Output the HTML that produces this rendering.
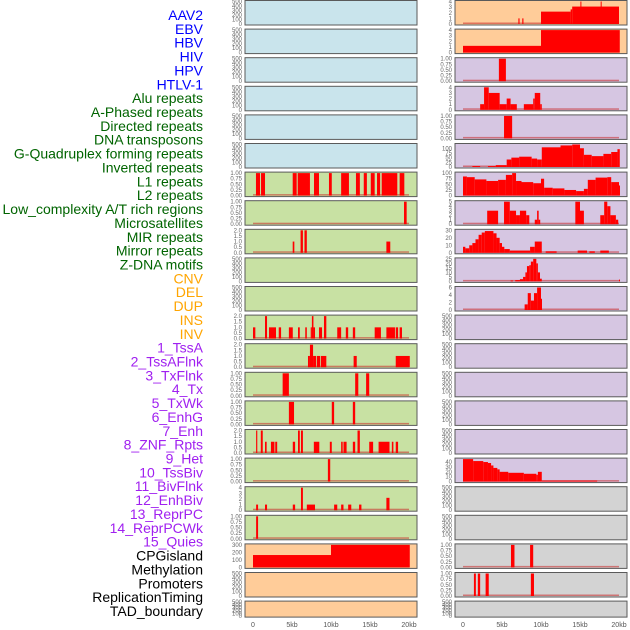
<!DOCTYPE html>
<html><head><meta charset="utf-8">
<style>
html,body{margin:0;padding:0;background:#fff;}
svg{display:block;font-family:"Liberation Sans",sans-serif;}
</style></head>
<body>
<svg id="chart" width="630" height="630" viewBox="0 0 630 630"></svg>
<script>
// ---------- track labels ----------
const trackLabels = ["AAV2","EBV","HBV","HIV","HPV","HTLV-1","Alu repeats","A-Phased repeats","Directed repeats","DNA transposons","G-Quadruplex forming repeats","Inverted repeats","L1 repeats","L2 repeats","Low_complexity A/T rich regions","Microsatellites","MIR repeats","Mirror repeats","Z-DNA motifs","CNV","DEL","DUP","INS","INV","1_TssA","2_TssAFlnk","3_TxFlnk","4_Tx","5_TxWk","6_EnhG","7_Enh","8_ZNF_Rpts","9_Het","10_TssBiv","11_BivFlnk","12_EnhBiv","13_ReprPC","14_ReprPCWk","15_Quies","CPGisland","Methylation","Promoters","ReplicationTiming","TAD_boundary"];
const labelColors = ["#0000ff","#0000ff","#0000ff","#0000ff","#0000ff","#0000ff","#006400","#006400","#006400","#006400","#006400","#006400","#006400","#006400","#006400","#006400","#006400","#006400","#006400","#ffa500","#ffa500","#ffa500","#ffa500","#ffa500","#a020f0","#a020f0","#a020f0","#a020f0","#a020f0","#a020f0","#a020f0","#a020f0","#a020f0","#a020f0","#a020f0","#a020f0","#a020f0","#a020f0","#a020f0","#000","#000","#000","#000","#000"];

// ---------- x axis ----------
const xTickValues = [0,5,10,15,20];
const xTickLabels = ["0","5kb","10kb","15kb","20kb"];

// ---------- y tick sets ----------
const t500 = [0,100,200,300,400,500];
const t1 = [0,0.25,0.5,0.75,1];
const t2 = [0,0.5,1,1.5,2];
const t4 = [0,1,2,3,4];
const t300 = [0,100,200,300];
const t100 = [0,25,50,75,100];
const t5 = [0,1,2,3,4,5];
const t30 = [0,10,20,30];
const t25 = [0,5,10,15,20,25];
const t6 = [0,2,4,6];
const t40 = [0,10,20,30,40];

// ---------- left panel series [startKb, endKb, value] ----------
const leftL1 = [[0.38,0.9,1],[1.03,1.54,1],[5.09,5.6,1],[5.73,7.3,1],[7.82,8.46,1],[9.74,10.1,1],[11.3,12.3,1],[13.2,13.7,1],[14.2,14.6,1],[15.1,15.6,1],[15.9,16.3,1],[16.5,18.5,1],[18.8,19.4,1]];
const leftL2 = [[19.36,19.7,1]];
const leftLowComp = [[5.09,5.3,1],[6.1,6.4,2],[6.6,6.9,2],[17.1,17.6,1]];
const leftINS = [[0,0.3,1],[1.54,1.8,2],[2.05,2.95,1],[3.3,3.6,1],[4.6,5.1,1],[5.77,6.0,1],[6.7,6.9,1],[7.4,7.55,1],[7.55,7.75,2],[7.75,7.95,1],[8.46,8.85,1],[9.1,9.4,2],[10.8,11.3,1],[11.9,12.2,1],[12.8,13.1,1],[15.6,16.4,1],[17.1,18.2,1],[18.3,18.6,1],[18.8,19.1,1]];
const leftTssA = [[7.05,7.3,1],[7.3,7.7,2],[7.7,8.1,1],[8.2,8.6,1],[8.7,9.4,1],[12.9,13.3,1],[18.3,20.1,1]];
const leftTssAFlnk = [[3.8,4.6,1],[13.1,13.5,1],[14.5,14.9,1]];
const leftTxFlnk = [[4.6,5.26,1],[10.1,10.4,1],[12.8,13.1,1]];
const leftTx = [[0.4,0.55,2],[1.0,1.25,2],[1.54,1.75,1],[2.3,2.75,1],[2.85,3.1,1],[5.1,5.4,1],[5.77,6.0,2],[6.15,6.4,2],[7.8,8.5,1],[9.85,10.1,1],[11.3,11.5,1],[11.6,12.0,1],[12.8,13.1,1],[13.4,13.7,2],[14.9,15.4,1],[16.1,17.5,1],[17.8,18.0,1],[18.3,18.6,1]];
const leftTxWk = [[9.6,9.9,1]];
const leftEnhG = [[0.4,0.65,1],[1.54,1.8,1],[5.1,5.4,1],[6.15,6.4,4],[6.9,7.95,1],[10.4,10.8,1],[11.3,11.6,1],[12.2,12.6,1],[13.6,13.9,1],[17.1,17.5,2.2]];
const leftEnh = [[0.4,0.65,1]];
const leftZNF = [[0,10,165],[10,20.1,300]];

// ---------- right panel series ----------
const rightR0 = [[7.1,7.25,1],[7.6,7.75,1],[10,13.8,2.2],[13.8,14.0,2.6],[14.0,20,3.1],[15.05,15.15,4],[17.65,17.75,4]];
const rightR1 = [[0,10,1.2],[10,20.1,4]];
const rightR2 = [[4.6,5.5,1]];
const rightR3 = [[2.2,2.7,1],[2.7,3.3,4],[3.3,4.7,3],[4.7,5.6,1],[5.6,6.1,2],[6.1,6.9,1],[7.8,9.0,1],[9.0,9.2,2],[9.2,9.9,3],[9.9,10.1,1]];
const rightR4 = [[5.26,6.3,1]];
const rightR5 = [[1.2,2.2,5],[3.2,4.2,5],[4.2,5.6,10],[5.6,6.2,40],[6.2,7.2,50],[7.2,8.8,55],[8.8,9.5,45],[9.5,10.1,40],[10.1,12.5,105],[12.5,14.0,115],[14.0,15.0,120],[15.0,15.5,100],[15.5,16.5,65],[16.5,18.0,58],[18.0,19.0,70],[19.0,19.8,80],[19.8,20.1,95]];
const rightR6 = [[0,0.5,85],[0.5,1.5,82],[1.5,3,72],[3,4.5,65],[4.5,5.5,70],[5.5,6.3,92],[6.3,6.8,100],[6.8,7.5,65],[7.5,9,60],[9,10,55],[10,10.4,75],[10.4,11.5,35],[11.5,13,32],[13,14.5,25],[14.5,15.5,20],[15.5,16,30],[16,17,70],[17,18.5,80],[18.5,19,82],[19,20,60],[20,20.1,45]];
const rightR7 = [[3.1,4.5,3],[5.26,6.0,5],[6.0,6.8,3],[6.8,7.3,2],[7.3,8.1,3],[8.1,8.5,2],[9.2,9.5,1],[9.5,9.7,3],[9.7,9.9,1],[14.4,15.0,5],[15.0,15.5,3],[17.6,18.1,2],[18.1,18.5,5],[18.5,18.9,4],[18.9,19.6,2],[19.6,19.9,1]];
const rightR8 = [[0,0.3,8],[0.3,0.8,6],[0.8,1.2,10],[1.2,1.6,13],[1.6,2.0,18],[2.0,2.4,24],[2.4,2.8,27],[2.8,3.9,29],[3.9,4.3,26],[4.3,4.7,20],[4.7,5.0,13],[5.0,5.3,8],[5.3,6.0,5],[6.0,8.6,3],[8.6,9.2,8],[9.2,10.1,15],[10.6,12.0,2],[14.7,15.9,3],[16.2,16.9,2],[17.6,18.7,3]];
const rightR9 = [[6.1,6.4,1],[6.7,7.3,1.5],[7.3,7.7,2.5],[7.7,8.0,5],[8.0,8.2,10],[8.2,8.5,17],[8.5,8.7,18],[8.7,9.0,22],[9.0,9.4,25],[9.4,9.6,20],[9.6,9.87,10],[9.87,10.1,3],[20.0,20.1,2]];
const rightR10 = [[7.9,8.3,1.5],[8.3,8.7,4.5],[8.7,9.1,2.5],[9.1,9.5,4.5],[9.5,10.0,6],[10.0,10.1,3]];
const rightR16 = [[0,1.3,46],[1.3,2.6,42],[2.6,3.2,40],[3.2,3.6,38],[3.6,3.9,33],[3.9,4.4,28],[4.4,4.7,25],[4.7,5.8,20],[5.8,7.8,18],[7.8,9.4,16],[9.4,9.6,14],[9.6,10.1,20],[10.1,17.2,2]];
const rightR19 = [[6.15,6.6,1],[8.6,9.0,1]];
const rightR20 = [[1.4,1.65,1],[1.9,2.2,1],[2.9,3.3,1],[8.7,9.1,1]];

// ---------- row definitions (series, yMax, ticks, decimals, background) ----------
const BLUE="#c9e4ec", GREEN="#c8e1a3", ORANGE="#ffcc99", PURPLE="#d6c6e2", GRAY="#d3d3d3";
const leftRows = [
 [null,500,t500,0,BLUE],[null,500,t500,0,BLUE],[null,500,t500,0,BLUE],[null,500,t500,0,BLUE],[null,500,t500,0,BLUE],[null,500,t500,0,BLUE],
 [leftL1,1,t1,2,GREEN],[leftL2,1,t1,2,GREEN],[leftLowComp,2,t2,1,GREEN],[null,500,t500,0,GREEN],[null,500,t500,0,GREEN],
 [leftINS,2,t2,1,GREEN],[leftTssA,2,t2,1,GREEN],[leftTssAFlnk,1,t1,2,GREEN],[leftTxFlnk,1,t1,2,GREEN],[leftTx,2,t2,1,GREEN],
 [leftTxWk,1,t1,2,GREEN],[leftEnhG,4,t4,0,GREEN],[leftEnh,1,t1,2,GREEN],
 [leftZNF,300,t300,0,ORANGE],[null,500,t500,0,ORANGE],[null,500,t500,0,ORANGE]
];
const rightRows = [
 [rightR0,4,t4,0,ORANGE],[rightR1,4,t4,0,ORANGE],
 [rightR2,1,t1,2,PURPLE],[rightR3,4,t4,0,PURPLE],[rightR4,1,t1,2,PURPLE],[rightR5,120,t100,0,PURPLE],[rightR6,100,t100,0,PURPLE],
 [rightR7,5,t5,0,PURPLE],[rightR8,30,t30,0,PURPLE],[rightR9,25,t25,0,PURPLE],[rightR10,6,t6,0,PURPLE],
 [null,500,t500,0,PURPLE],[null,500,t500,0,PURPLE],[null,500,t500,0,PURPLE],[null,500,t500,0,PURPLE],[null,500,t500,0,PURPLE],
 [rightR16,46,t40,0,PURPLE],[null,500,t500,0,GRAY],[null,500,t500,0,GRAY],[rightR19,1,t1,2,GRAY],[rightR20,1,t1,2,GRAY],[null,500,t500,0,GRAY]
];

const svg = document.getElementById('chart');
const NS = "http://www.w3.org/2000/svg";
function mk(tag, attrs){ const e=document.createElementNS(NS,tag); for(const k in attrs) e.setAttribute(k,attrs[k]); return e; }

// labels
trackLabels.forEach((lab,i)=>{
  const t = mk('text',{x:203,y:15+i*13.86+5,'text-anchor':'end','font-size':14,fill:labelColors[i]});
  t.textContent = lab;
  
  
  svg.appendChild(t);
});

function rowTop(k){ return 0.5 + 28.6*k; }
function rowH(k){ return k===21 ? 16 : 24.5; }

function drawPanel(rows, px0, side){
  const pw = 172, x0 = px0 + 8, xScale = 7.8;
  const xf = kb => x0 + kb*xScale;
  rows.forEach((r,k)=>{
    const [series,yMax,ticks,dec,bg] = r;
    const top = rowTop(k), h = rowH(k);
    const yTop = top+1, yBot = top+h-1;
    const yf = v => yBot - (v/yMax)*(yBot-yTop);
    const g = mk('g',{});
    
    
    const rect = mk('rect',{x:px0,y:top,width:pw,height:h,fill:bg,stroke:'#5a5a5a','stroke-width':1});
    
    
    g.appendChild(rect);
    ticks.forEach(tv=>{
      const t = mk('text',{x:px0-3,y:yf(tv)+2,'text-anchor':'end','font-size':6,fill:'#666'});
      t.textContent = tv.toFixed(dec);
      
      
      g.appendChild(t);
    });
    if(series){
      const base = mk('rect',{x:xf(0),y:yBot-1.5,width:20*xScale,height:1.5,fill:'rgba(200,40,40,0.55)'});
      
      
      g.appendChild(base);
      series.forEach(s=>{
        const y = yf(s[2]);
        const b = mk('rect',{x:xf(s[0]),y:y,width:Math.max(1,xf(s[1])-xf(s[0])),height:yBot-y,fill:'#ff0000'});
        
        
        g.appendChild(b);
      });
    }
    svg.appendChild(g);
  });
  xTickValues.forEach((v,i)=>{
    const t = mk('text',{x:xf(v),y:627,'text-anchor':'middle','font-size':7,fill:'#555'});
    t.textContent = xTickLabels[i];
    
    
    svg.appendChild(t);
  });
}
drawPanel(leftRows, 245, 'left');
drawPanel(rightRows, 455, 'right');
</script>
</body></html>
